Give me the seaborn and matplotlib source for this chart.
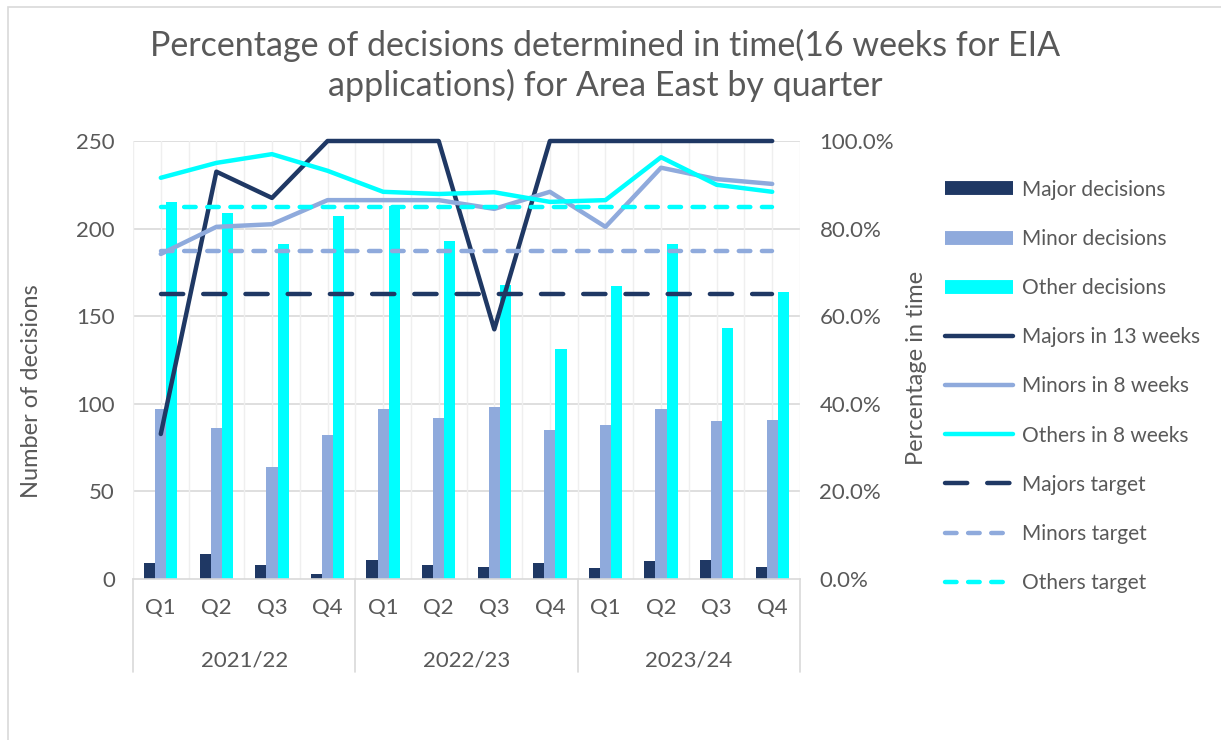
import matplotlib
matplotlib.use("Agg")
import matplotlib.pyplot as plt
import matplotlib.transforms as mtrans
from matplotlib.lines import Line2D
from matplotlib.patches import Rectangle
import numpy as np
import pandas as pd
import seaborn as sns

years = ["2021/22", "2022/23", "2023/24"]
quarters = ["Q1", "Q2", "Q3", "Q4"]

major_decisions = [9, 14, 8, 3, 11, 8, 7, 9, 6, 10, 11, 7]
minor_decisions = [97, 86, 64, 82, 97, 92, 98, 85, 88, 97, 90, 91]
other_decisions = [215, 209, 191, 207, 213, 193, 168, 131, 167, 191, 143, 164]

majors_13wk = [0.331, 0.93, 0.87, 1.0, 1.0, 1.0, 0.57, 1.0, 1.0, 1.0, 1.0, 1.0]
minors_8wk = [0.742, 0.804, 0.81, 0.865, 0.865, 0.865, 0.845, 0.884, 0.804, 0.939, 0.913, 0.902]
others_8wk = [0.916, 0.95, 0.97, 0.932, 0.884, 0.879, 0.883, 0.861, 0.865, 0.963, 0.90, 0.884]

majors_target = 0.65
minors_target = 0.75
others_target = 0.85

navy = "#1F3864"
lightblue = "#8FAADC"
cyan = "#00FFFF"
grey = "#595959"
gridc = "#D9D9D9"

sns.set_style("white")
plt.rcParams["font.family"] = ["Lato", "DejaVu Sans"]

cats = [f"{y}-{q}" for y in years for q in quarters]
df = pd.DataFrame({
    "cat": cats * 3,
    "value": major_decisions + minor_decisions + other_decisions,
    "type": ["Major decisions"] * 12 + ["Minor decisions"] * 12 + ["Other decisions"] * 12,
})

fig = plt.figure(figsize=(12.21, 7.40), dpi=100)
ax = fig.add_axes([133 / 1221, 1 - 579 / 740, 667 / 1221, 438 / 740])

sns.barplot(data=df, x="cat", y="value", hue="type", order=cats,
            palette=[navy, lightblue, cyan], width=0.6, saturation=1,
            linewidth=0, ax=ax, legend=False)
ax.set_ylim(0, 250)
ax.set_xlim(-0.5, 11.5)
ax.set_yticks(range(0, 251, 50))
for y in range(50, 251, 50):
    ax.axhline(y, color=gridc, lw=1.2, zorder=0)
for x in np.arange(-0.5, 12, 0.5):
    ax.axvline(x, color="#EFEFEF", lw=1.0, zorder=0)
for s in ["top", "right", "left"]:
    ax.spines[s].set_visible(False)
ax.spines["bottom"].set_color(gridc)
ax.spines["bottom"].set_linewidth(1.2)
ax.set_xticks(range(12))
ax.set_xticklabels(quarters * 3)
ax.tick_params(axis="x", length=0, pad=14, labelsize=16, labelcolor=grey)
ax.tick_params(axis="y", length=0, pad=13, labelsize=16, labelcolor=grey)
ax.set_xlabel("")
ax.set_ylabel("Number of decisions", fontsize=17, color=grey)
ax.yaxis.set_label_coords(-0.136, 0.43)

# year group labels and separators
trans = mtrans.blended_transform_factory(ax.transData, ax.transAxes)
for i, yr in enumerate(years):
    ax.text(i * 4 + 1.5, -0.185, yr, transform=trans, ha="center", va="center",
            fontsize=16, color=grey)
for b in [-0.5, 3.5, 7.5, 11.5]:
    ax.add_line(Line2D([b, b], [0, -0.212], transform=trans, color=gridc,
                       lw=1.2, clip_on=False))

ax2 = ax.twinx()
ax2.set_position(ax.get_position())
idx = np.arange(12)
sns.lineplot(x=idx, y=majors_13wk, ax=ax2, color=navy, lw=3.2)
sns.lineplot(x=idx, y=minors_8wk, ax=ax2, color=lightblue, lw=3.2)
sns.lineplot(x=idx, y=others_8wk, ax=ax2, color=cyan, lw=3.2)
ax2.plot(idx, [majors_target] * 12, color=navy, lw=3.2, dashes=(5, 4.5), dash_capstyle="round")
ax2.plot(idx, [minors_target] * 12, color=lightblue, lw=3.2, dashes=(2.6, 2.6), dash_capstyle="round")
ax2.plot(idx, [others_target] * 12, color=cyan, lw=3.2, dashes=(2.6, 2.6), dash_capstyle="round")
for ln in ax2.lines:
    ln.set_clip_on(False)
ax2.set_ylim(0, 1)
ax2.set_xlim(-0.5, 11.5)
ax2.set_yticks(np.arange(0, 1.01, 0.2))
ax2.set_yticklabels([f"{v * 100:.1f}%" for v in np.arange(0, 1.01, 0.2)])
ax2.tick_params(axis="y", length=0, pad=14, labelsize=16, labelcolor=grey)
for s in ax2.spines.values():
    s.set_visible(False)
ax2.set_ylabel("Percentage in time", fontsize=17, color=grey)
ax2.yaxis.set_label_coords(1.159, 0.482)

handles = [
    Line2D([], [], color=navy, lw=10, solid_capstyle="butt"),
    Line2D([], [], color=lightblue, lw=10, solid_capstyle="butt"),
    Line2D([], [], color=cyan, lw=10, solid_capstyle="butt"),
    Line2D([], [], color=navy, lw=3.2, solid_capstyle="round"),
    Line2D([], [], color=lightblue, lw=3.2, solid_capstyle="round"),
    Line2D([], [], color=cyan, lw=3.2, solid_capstyle="round"),
    Line2D([], [], color=navy, lw=3.2, dashes=(5, 4.5), dash_capstyle="round"),
    Line2D([], [], color=lightblue, lw=3.2, dashes=(2.6, 2.6), dash_capstyle="round"),
    Line2D([], [], color=cyan, lw=3.2, dashes=(2.6, 2.6), dash_capstyle="round"),
]
labels = ["Major decisions", "Minor decisions", "Other decisions",
          "Majors in 13 weeks", "Minors in 8 weeks", "Others in 8 weeks",
          "Majors target", "Minors target", "Others target"]
fig.legend(handles, labels, loc="upper left", bbox_to_anchor=(926 / 1221, 1 - 161 / 740),
           frameon=False, fontsize=15, labelcolor=grey, handlelength=3.27,
           handletextpad=0.43, labelspacing=1.4)

fig.text(605 / 1221, 1 - 45 / 740, "Percentage of decisions determined in time(16 weeks for EIA",
         ha="center", va="center", fontsize=24.5, color=grey)
fig.text(605 / 1221, 1 - 85 / 740, "applications) for Area East by quarter",
         ha="center", va="center", fontsize=24.5, color=grey)

fig.patches.append(Rectangle((8 / 1221, -0.1), 1.2, 1 - 7 / 740 + 0.1,
                             transform=fig.transFigure, fill=False,
                             edgecolor=gridc, lw=1.2))

fig.savefig("out.png", dpi=100)
